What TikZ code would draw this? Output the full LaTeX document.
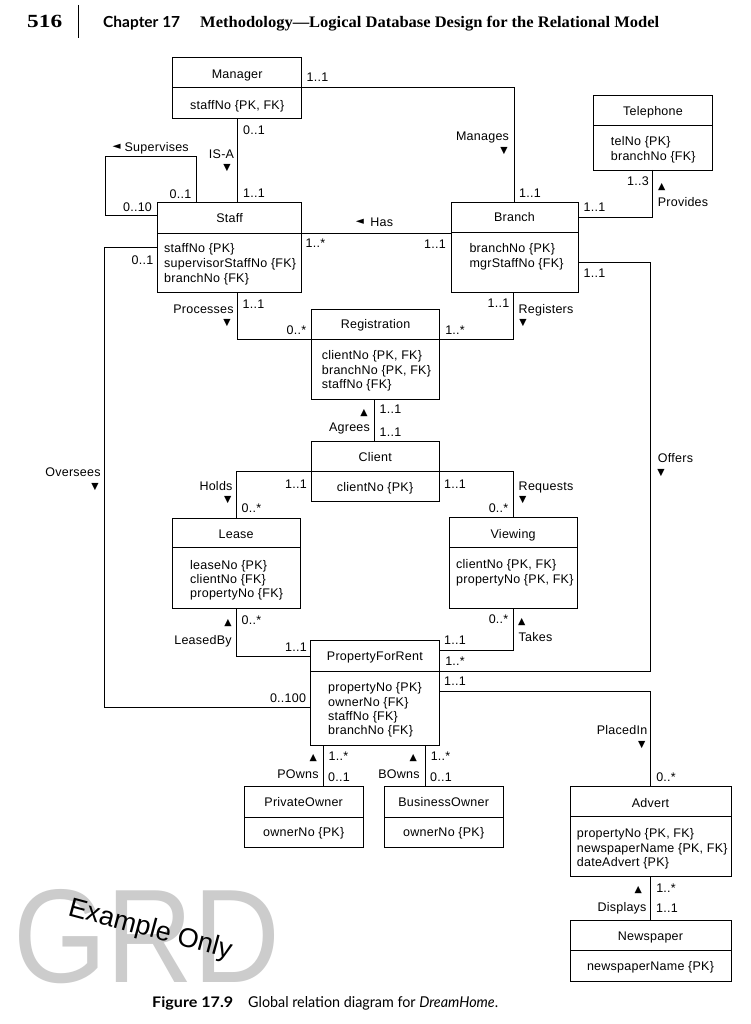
\documentclass[tikz,border=0pt]{standalone}
\usepackage{graphicx}
\usepackage{fontspec}
\setmainfont{Liberation Sans}
\newfontfamily\df[LetterSpace=2]{Liberation Sans}
\newfontfamily\symf{DejaVu Sans}
\newfontfamily\serifb{Liberation Serif}
\newfontfamily\capf{Lato}
\tikzset{
  ent/.style={draw, line width=0.9pt, inner sep=0pt, outer sep=0pt},
  entl/.style={line width=0.9pt},
  conn/.style={line width=0.9pt},
  lab/.style={font=\df\fontsize{12.5}{14}\selectfont, inner sep=0pt, text height=8.9pt, text depth=0pt},
  attr/.style={lab, anchor=west},
  tri/.style={font=\symf\fontsize{9.5}{9.5}\selectfont, inner sep=0pt},
  ltri/.style={font=\symf\fontsize{10.5}{10.5}\selectfont, inner sep=0pt},
}
\newcommand\umlbox[8]{%
  \node[ent, minimum width={#4-#2}, minimum height={#5-#3}, anchor=north west] (#1) at (#2,#3) {};
  \draw[entl] (#2,#6) -- (#4,#6);
  \node[lab] (#1T) at ({(#2+#4)/2},#8) {#7};
}
\newcommand\attrline[4]{\node[attr] (#1) at (#2,#3) {#4};}
\begin{document}
\begin{tikzpicture}[x=1pt,y=-1pt]
\fill[white] (0,0) rectangle (751,1024);
\useasboundingbox (0,0) rectangle (751,1024);

% header
\node[anchor=base west, inner sep=0pt] (pg) at (27,27.3) {\resizebox{35pt}{12.3pt}{\serifb\bfseries 516}};
\draw[line width=1.3pt] (78.7,5) -- (78.7,38.5);
\node[anchor=base west, inner sep=0pt] (chap) at (103,27.3) {\resizebox{77pt}{11.3pt}{\capf\bfseries Chapter 17}};
\node[anchor=base west, inner sep=0pt] (ttl) at (200,27.3) {\resizebox{459pt}{11.3pt}{\serifb\bfseries Methodology—Logical Database Design for the Relational Model}};

% watermark
\node[anchor=base west, inner sep=0pt, text=black!20] (grd) at (13,982) {\resizebox{267pt}{93pt}{GRD}};
\node[anchor=base west, inner sep=0pt, rotate=-15, font=\fontsize{27}{27}\selectfont] (ex) at (67,915) {Example Only};

% entities
\umlbox{manager}{172.7}{57.3}{301.7}{118.3}{87.7}{Manager}{74}
\node[lab] (managerA) at (237.2,105) {staffNo \{PK, FK\}};

\umlbox{tel}{593.7}{95}{712.3}{170}{125}{Telephone}{110.7}
\attrline{telA1}{610.7}{141}{telNo \{PK\}}
\attrline{telA2}{610.7}{156}{branchNo \{FK\}}

\umlbox{staff}{157.5}{202.5}{301.7}{292.5}{233}{Staff}{218.3}
\attrline{staffA1}{164}{248.3}{staffNo \{PK\}}
\attrline{staffA2}{164}{263}{supervisorStaffNo \{FK\}}
\attrline{staffA3}{164}{277.7}{branchNo \{FK\}}

\umlbox{branch}{451}{202.5}{578}{292.3}{232.5}{Branch}{217}
\attrline{branchA1}{469.3}{247.7}{branchNo \{PK\}}
\attrline{branchA2}{469.3}{263}{mgrStaffNo \{FK\}}

\umlbox{reg}{311.7}{309}{439.3}{399}{339}{Registration}{324}
\attrline{regA1}{321.7}{355}{clientNo \{PK, FK\}}
\attrline{regA2}{321.7}{370}{branchNo \{PK, FK\}}
\attrline{regA3}{321.7}{384}{staffNo \{FK\}}

\umlbox{client}{311}{441.5}{439.3}{501.7}{471.7}{Client}{456.7}
\node[lab] (clientA) at (375,486.7) {clientNo \{PK\}};

\umlbox{lease}{172.3}{518.3}{300}{608.3}{547.7}{Lease}{534}
\attrline{leaseA1}{190}{565}{leaseNo \{PK\}}
\attrline{leaseA2}{190}{579}{clientNo \{FK\}}
\attrline{leaseA3}{190}{593}{propertyNo \{FK\}}

\umlbox{viewing}{449}{517.7}{577.3}{608.3}{547.7}{Viewing}{534}
\attrline{viewingA1}{456}{564.3}{clientNo \{PK, FK\}}
\attrline{viewingA2}{456}{579}{propertyNo \{PK, FK\}}

\umlbox{pfr}{310.5}{640}{439.3}{745}{671.7}{PropertyForRent}{655.7}
\attrline{pfrA1}{328}{687.3}{propertyNo \{PK\}}
\attrline{pfrA2}{328}{701.7}{ownerNo \{FK\}}
\attrline{pfrA3}{328}{716}{staffNo \{FK\}}
\attrline{pfrA4}{328}{730}{branchNo \{FK\}}

\umlbox{powner}{244}{786.7}{363.3}{847.3}{817.3}{PrivateOwner}{802.3}
\node[lab] (pownerA) at (303.7,832.3) {ownerNo \{PK\}};

\umlbox{bowner}{384}{786.7}{503.3}{847.3}{817.3}{BusinessOwner}{802.3}
\node[lab] (bownerA) at (443.7,832.3) {ownerNo \{PK\}};

\umlbox{advert}{570}{786.7}{731}{876.7}{816.7}{Advert}{803.3}
\attrline{advertA1}{576.7}{833.3}{propertyNo \{PK, FK\}}
\attrline{advertA2}{576.7}{847.7}{newspaperName \{PK, FK\}}
\attrline{advertA3}{576.7}{862.3}{dateAdvert \{PK\}}

\umlbox{news}{570}{920}{731}{981.7}{950}{Newspaper}{935.7}
\node[lab] (newsA) at (650.5,966) {newspaperName \{PK\}};

% connector bend points
\coordinate (mgB) at (514,87.7);
\coordinate (isa) at (237.7,0);
\coordinate (sv1) at (196.7,156.7);
\coordinate (sv2) at (105,215);
\coordinate (has) at (0,233);
\coordinate (ov1) at (104.5,247.3);
\coordinate (ov2) at (104.5,707.3);
\coordinate (pr) at (237.3,339);
\coordinate (rg) at (513.3,339);
\coordinate (pv) at (652.3,217.7);
\coordinate (of1) at (650,262.7);
\coordinate (of2) at (650,671);
\coordinate (ag) at (374.3,0);
\coordinate (hd) at (236.7,471.7);
\coordinate (rq) at (513.3,471.7);
\coordinate (lb) at (236.7,656);
\coordinate (tk) at (513.3,650);
\coordinate (pi) at (650,691);
\coordinate (po) at (323.3,0);
\coordinate (bo) at (425,0);
\coordinate (dp) at (650,0);

% connectors
\draw[conn] (manager.east |- mgB) -- (mgB) -- (mgB |- branch.north);
\draw[conn] (isa |- manager.south) -- (isa |- staff.north);
\draw[conn] (sv1 |- staff.north) -- (sv1) -- (sv2 |- sv1) -- (sv2) -- (sv2 -| staff.west);
\draw[conn] (staff.east |- has) -- (branch.west |- has);
\draw[conn] (ov1 -| staff.west) -- (ov1) -- (ov2) -- (ov2 -| pfr.west);
\draw[conn] (pr |- staff.south) -- (pr) -- (pr -| reg.west);
\draw[conn] (rg |- branch.south) -- (rg) -- (rg -| reg.east);
\draw[conn] (pv |- tel.south) -- (pv) -- (pv -| branch.east);
\draw[conn] (of1 -| branch.east) -- (of1) -- (of2) -- (of2 -| pfr.east);
\draw[conn] (ag |- reg.south) -- (ag |- client.north);
\draw[conn] (hd -| client.west) -- (hd) -- (hd |- lease.north);
\draw[conn] (rq -| client.east) -- (rq) -- (rq |- viewing.north);
\draw[conn] (lb |- lease.south) -- (lb) -- (lb -| pfr.west);
\draw[conn] (tk |- viewing.south) -- (tk) -- (tk -| pfr.east);
\draw[conn] (pi -| pfr.east) -- (pi) -- (pi |- advert.north);
\draw[conn] (po |- pfr.south) -- (po |- powner.north);
\draw[conn] (bo |- pfr.south) -- (bo |- bowner.north);
\draw[conn] (dp |- advert.south) -- (dp |- news.north);

% labels: Manages
\node[lab] (m1) at (317.5,77) {1..1};
\node[lab] (manages) at (482.5,136) {Manages};
\node[tri] (managesT) at (504,151) {▼};
\node[lab] (m2) at (530,193) {1..1};
% IS-A
\node[lab] (i1) at (254,130) {0..1};
\node[lab] (isaL) at (221.5,154) {IS-A};
\node[tri] (isaT) at (227,168) {▼};
\node[lab] (i2) at (254,193) {1..1};
% Supervises
\node[ltri] (supT) at (116.7,147) {◄};
\node[lab] (sup) at (156.7,146.7) {Supervises};
\node[lab] (s1) at (180.5,194) {0..1};
\node[lab] (s2) at (137.5,207) {0..10};
% Has
\node[ltri] (hasT) at (360,222) {◄};
\node[lab] (hasL) at (381.7,222) {Has};
\node[lab] (h1) at (315.5,242.7) {1..*};
\node[lab] (h2) at (435,244) {1..1};
% Provides
\node[lab] (p1) at (638,181) {1..3};
\node[tri] (provT) at (661.7,187) {▲};
\node[lab] (prov) at (683,201.7) {Provides};
\node[lab] (p2) at (594.5,206.7) {1..1};
% Offers
\node[lab] (o1) at (594.5,273) {1..1};
\node[lab] (offers) at (675.5,458) {Offers};
\node[tri] (offersT) at (661,472.7) {▼};
\node[lab] (o2) at (455,680.7) {1..1};
% Oversees
\node[lab] (v1) at (142.5,260) {0..1};
\node[lab] (overs) at (73,472.3) {Oversees};
\node[tri] (oversT) at (95,486.7) {▼};
\node[lab] (v2) at (288,698.3) {0..100};
% Processes
\node[lab] (pr1) at (253.5,304) {1..1};
\node[lab] (proc) at (203.5,309) {Processes};
\node[tri] (procT) at (227,323) {▼};
\node[lab] (pr2) at (296.5,330) {0..*};
% Registers
\node[lab] (r1) at (498.5,303) {1..1};
\node[lab] (regs) at (546,309) {Registers};
\node[tri] (regsT) at (523,323) {▼};
\node[lab] (r2) at (455,330) {1..*};
% Agrees
\node[tri] (agT) at (364,413) {▲};
\node[lab] (agL) at (349.5,427) {Agrees};
\node[lab] (a1) at (390.5,409) {1..1};
\node[lab] (a2) at (390.5,432) {1..1};
% Holds
\node[lab] (holds) at (216,486) {Holds};
\node[tri] (holdsT) at (227.7,500) {▼};
\node[lab] (hd1) at (296,484) {1..1};
\node[lab] (hd2) at (251.5,508) {0..*};
% Requests
\node[lab] (reqs) at (546,486) {Requests};
\node[tri] (reqsT) at (522.7,500) {▼};
\node[lab] (rq1) at (455,484) {1..1};
\node[lab] (rq2) at (498.5,507.7) {0..*};
% LeasedBy
\node[lab] (lb1) at (251.5,620) {0..*};
\node[tri] (lbT) at (228,623) {▲};
\node[lab] (lbL) at (203,640) {LeasedBy};
\node[lab] (lb2) at (296,647) {1..1};
% Takes
\node[lab] (tk1) at (498.5,619) {0..*};
\node[tri] (tkT) at (521.7,622) {▲};
\node[lab] (tkL) at (535.5,636.7) {Takes};
\node[lab] (tk2) at (455,640) {1..1};
\node[lab] (tk3) at (455,661) {1..*};
% PlacedIn
\node[lab] (piL) at (622,730) {PlacedIn};
\node[tri] (piT) at (641.7,745) {▼};
\node[lab] (pi1) at (666,776.7) {0..*};
% POwns
\node[tri] (poT) at (313.3,758.3) {▲};
\node[lab] (poL) at (298,774.3) {POwns};
\node[lab] (po1) at (338.5,756) {1..*};
\node[lab] (po2) at (339,776.7) {0..1};
% BOwns
\node[tri] (boT) at (413.3,758.3) {▲};
\node[lab] (boL) at (399,774.3) {BOwns};
\node[lab] (bo1) at (440.5,756) {1..*};
\node[lab] (bo2) at (441,776.7) {0..1};
% Displays
\node[tri] (dpT) at (638.3,890) {▲};
\node[lab] (dpL) at (622,906.7) {Displays};
\node[lab] (dp1) at (666,888.3) {1..*};
\node[lab] (dp2) at (667,908.3) {1..1};

% caption
\node[anchor=base west, inner sep=0pt] (figno) at (152,1007.3) {\resizebox{81pt}{10.8pt}{\capf\bfseries Figure 17.9}};
\node[anchor=base west, inner sep=0pt] (cap) at (248,1007.3) {\resizebox{250pt}{11pt}{\capf Global relation diagram for \textit{DreamHome}.}};
\end{tikzpicture}
\end{document}
